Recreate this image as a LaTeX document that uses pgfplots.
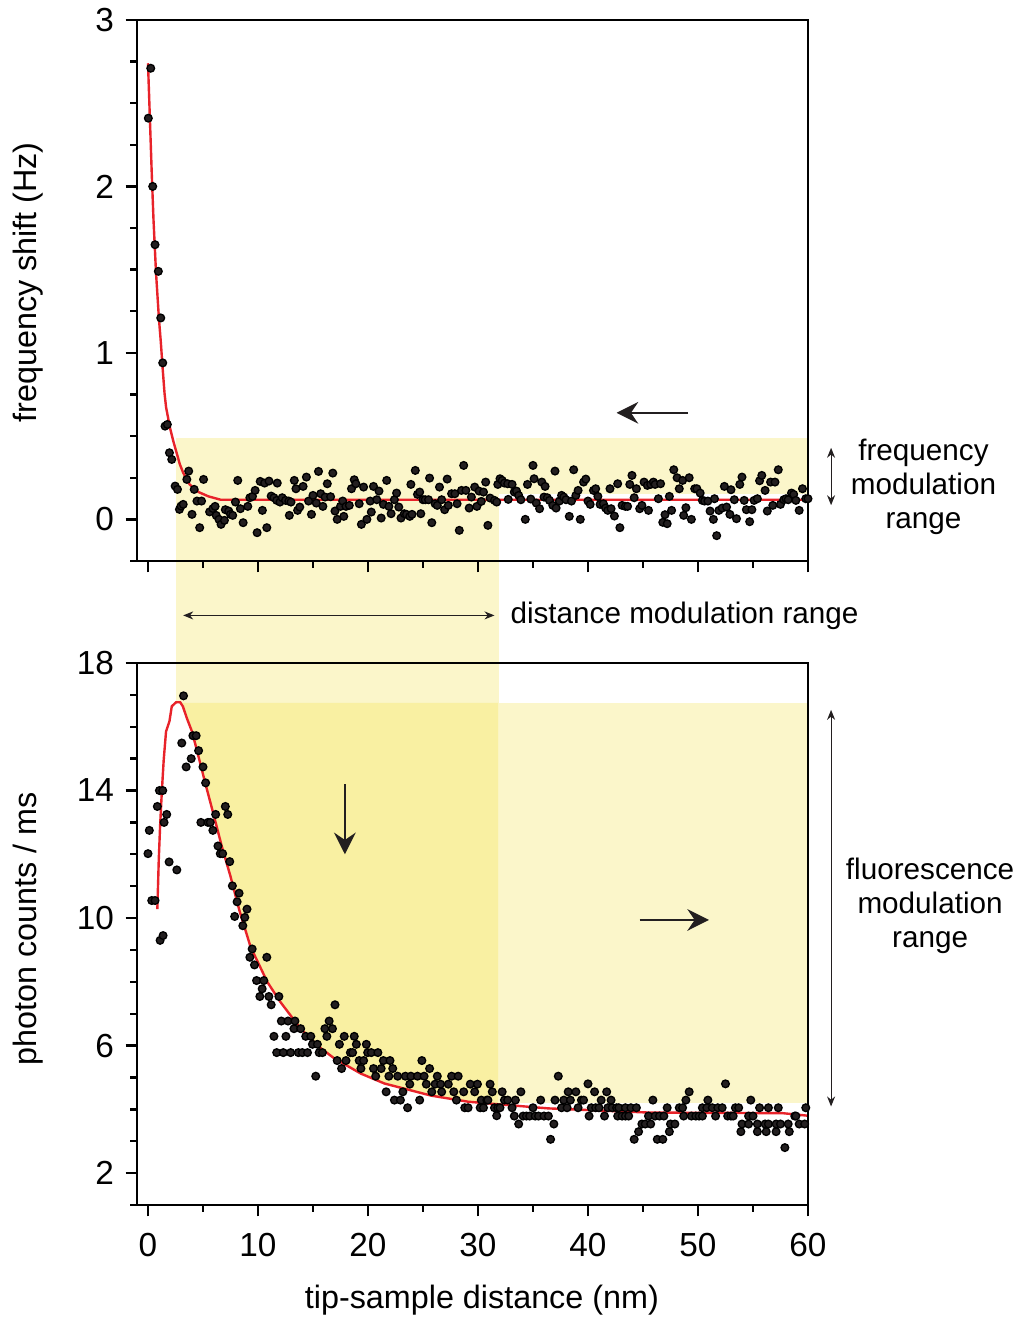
\documentclass[border=0pt]{standalone}
\usepackage{pgfplots}
\pgfplotsset{compat=1.18}
\usepackage{fontspec}
\setmainfont{Liberation Sans}
\usetikzlibrary{arrows.meta}
\definecolor{pale}{RGB}{251,246,202}
\definecolor{dark}{RGB}{249,240,162}
\definecolor{dotc}{RGB}{35,31,32}
\definecolor{curvec}{RGB}{232,35,42}
\newcommand\fst{\fontsize{10}{12}\selectfont}
\newcommand\fsl{\fontsize{9.7}{11.6}\selectfont}
\newcommand\fsa{\fontsize{8.9}{10.2}\selectfont}

\tikzset{
 bigarrow/.style={line width=0.6pt, dotc, -{Stealth[length=6.5pt,width=6.5pt,inset=2.2pt]}},
 thinarrow/.style={line width=0.35pt, dotc, {Stealth[length=3pt,width=2.4pt]}-{Stealth[length=3pt,width=2.4pt]}},
}
\pgfplotsset{
 myax/.style={
  scale only axis, width=201.3pt,
  xmin=-1, xmax=60,
  axis on top, clip=false,
  axis line style={line width=0.7pt},
  every tick/.append style={line width=0.7pt, black},
  major tick length=3.4pt, minor tick length=2pt,
  tick align=outside, tick pos=left,
  xtick={0,10,...,60}, minor xtick={5,15,...,55},
  tick label style={font=\fst},
  xticklabel style={yshift=-1.5pt},
  label style={font=\fsl},
  /pgf/number format/assume math mode=true,
  ylabel style={at={(axis description cs:-0.162,0.51)}, anchor=center},
 },
 dots/.style={only marks, mark=*, mark size=1.15pt, mark options={draw=none, fill=dotc}},
 fit/.style={no marks, curvec, line width=0.72pt},
}

\begin{document}
\begin{tikzpicture}
\useasboundingbox (-41.1pt,-33.6pt) rectangle (264.9pt,361.5pt);

% ---------------- top axis ----------------
\begin{axis}[myax, name=top, at={(0,193.2pt)}, anchor=south west, height=162.3pt,
  ymin=-0.25, ymax=3, ytick={0,1,2,3},
  minor ytick={-0.25,0.25,0.5,0.75,1.25,1.5,1.75,2.25,2.5,2.75},
  xticklabels={},
  ylabel={frequency shift (Hz)},
  ylabel style={at={(axis description cs:-0.162,0.515)}}]
\addplot[draw=none, fill=pale] coordinates {(2.56,0.486) (31.87,0.486) (31.87,-1.105) (2.56,-1.105)} -- cycle;
\addplot[draw=none, fill=pale] coordinates {(31.87,0.486) (60,0.486) (60,0.155) (31.87,0.155)} -- cycle;
\addplot[fit] coordinates {(0,2.74) (0.15,2.45) (0.34,2.08) (0.5,1.8) (0.73,1.48) (1.0,1.2) (1.16,1.07) (1.34,0.9) (1.5,0.76) (1.64,0.675) (2.0,0.55) (2.3,0.47) (2.6,0.40) (2.9,0.33) (3.2,0.28) (3.78,0.21) (4.6,0.164) (5.5,0.138) (6.6,0.118) (60,0.118)};
\addplot[dots] coordinates {
(0.03,2.41) (0.25,2.71) (0.43,2.00) (0.64,1.65) (0.94,1.49) (1.16,1.21) (1.34,0.94) (1.55,0.56) (1.76,0.57) (1.95,0.40)
(2.16,0.36) (2.47,0.20) (2.68,0.18) (2.86,0.06) (3.0,0.08) (3.2,0.09) (3.53,0.24) (3.7,0.29) (4.0,0.03) (4.2,0.18)
(4.45,0.11) (4.7,-0.05) (4.87,0.11) (5.05,0.24) (5.6,0.045) (5.9,0.065) (6.1,0.078) (6.2,0.024) (6.45,0.0) (6.64,-0.03)
(6.95,-0.006) (7.03,0.058) (7.34,0.05) (7.5,0.03) (7.7,0.024) (7.95,0.104) (8.16,0.234) (8.4,0.064) (8.65,-0.02) (9.07,0.078)
(9.26,0.13) (9.5,0.138) (9.74,0.174) (9.92,-0.08) (10.2,0.228) (10.4,0.054) (10.6,0.218) (10.8,-0.05) (11.0,0.23) (11.2,0.14)
(11.45,0.13) (11.7,0.114) (11.75,0.218) (12.0,0.104) (12.2,0.13) (12.5,0.114) (12.8,0.11) (12.85,0.024) (13.0,0.104) (13.3,0.234)
(13.45,0.184) (13.6,0.054) (13.8,0.074) (14.1,0.198) (14.4,0.254) (14.6,0.11) (14.86,0.03) (15.0,0.144) (15.3,0.098) (15.5,0.288)
(15.7,0.154) (15.9,0.078) (16.1,0.134) (16.3,0.214) (16.6,0.136) (16.8,0.278) (17.0,0.05) (17.2,0.0) (17.5,0.078) (17.7,0.11)
(17.8,0.018) (18.0,0.078) (18.3,0.084) (18.5,0.184) (18.75,0.238) (18.9,0.214) (19.2,0.094) (19.4,-0.03) (19.6,0.194) (19.9,0.0)
(20.2,0.11) (20.3,0.044) (20.5,0.198) (20.8,0.118) (21.0,0.17) (21.2,0.008) (21.4,0.09) (21.7,0.234) (21.9,0.078) (22.1,0.034)
(22.4,0.118) (22.6,0.158) (22.8,0.074) (23.0,0.008) (23.3,0.034) (23.5,0.03) (23.8,0.018) (23.9,0.21) (24.0,0.03) (24.3,0.294)
(24.5,0.15) (24.7,0.164) (24.8,0.034) (25.0,0.118) (25.2,0.118) (25.5,0.118) (25.6,0.248) (25.8,-0.02) (26.1,0.094) (26.3,0.084)
(26.5,0.194) (26.7,0.118) (26.97,0.058) (27.2,0.242) (27.3,0.084) (27.6,0.154) (27.9,0.154) (28.1,0.094) (28.3,-0.066) (28.5,0.174)
(28.7,0.324) (28.9,0.174) (29.2,0.068) (29.4,0.134) (29.7,0.194) (29.9,0.078) (30.1,0.17) (30.3,0.108) (30.5,0.164) (30.7,0.224)
(30.9,-0.036) (31.1,0.128) (31.5,0.114) (31.7,0.104) (31.8,0.21) (32.0,0.244) (32.2,0.234) (32.4,0.218) (32.7,0.214) (32.75,0.12)
(33.1,0.21) (33.3,0.164) (33.5,0.17) (33.7,0.144) (33.9,0.118) (34.3,0.0) (34.5,0.21) (34.8,0.122) (35.0,0.324) (35.1,0.244)
(35.3,0.098) (35.6,0.064) (35.8,0.224) (36.0,0.134) (36.1,0.198) (36.3,0.13) (36.5,0.114) (36.8,0.084) (37.0,0.29) (37.1,0.068)
(37.4,0.11) (37.6,0.144) (37.8,0.134) (38.0,0.118) (38.3,0.018) (38.5,0.11) (38.7,0.298) (38.9,0.144) (39.1,0.174) (39.3,0.0)
(39.6,0.224) (39.8,0.242) (40.0,0.11) (40.2,0.09) (40.5,0.174) (40.7,0.184) (40.9,0.138) (41.1,0.09) (41.4,0.094) (41.6,0.068)
(41.8,0.054) (42.0,0.184) (42.1,0.064) (42.4,0.02) (42.7,0.214) (42.9,-0.05) (43.1,0.084) (43.4,0.078) (43.6,0.078) (43.8,0.21)
(44.0,0.264) (44.2,0.13) (44.4,0.184) (44.7,0.064) (44.9,0.084) (45.1,0.224) (45.4,0.204) (45.5,0.054) (45.7,0.21) (45.95,0.224)
(46.1,0.21) (46.4,0.124) (46.6,0.214) (46.8,-0.018) (47.0,0.028) (47.2,-0.026) (47.4,0.138) (47.6,0.054) (47.8,0.298) (48.1,0.25)
(48.3,0.184) (48.6,0.234) (48.7,0.024) (48.9,0.07) (49.2,0.25) (49.4,0.0) (49.7,0.184) (49.9,0.184) (50.2,0.158) (50.4,0.114)
(50.6,0.11) (50.9,0.11) (51.1,0.05) (51.4,0.0) (51.5,0.124) (51.7,-0.098) (51.9,0.054) (52.2,0.068) (52.4,0.198) (52.6,0.074)
(52.9,0.03) (53.0,0.178) (53.3,0.118) (53.5,0.004) (53.8,0.21) (54.0,0.254) (54.2,0.114) (54.4,0.058) (54.7,-0.014) (54.9,0.058)
(55.1,0.114) (55.4,0.124) (55.6,0.232) (55.8,0.264) (56.1,0.174) (56.3,0.05) (56.6,0.224) (56.8,0.084) (57.0,0.224) (57.3,0.298)
(57.5,0.09) (57.8,0.118) (58.0,0.124) (58.2,0.118) (58.5,0.158) (58.7,0.15) (58.9,0.114) (59.2,0.054) (59.5,0.184) (59.8,0.124)
(60.0,0.124)};
\draw[bigarrow] (axis cs:49.1,0.64) -- (axis cs:42.6,0.64);
\draw[thinarrow] (axis cs:62.1,0.43) -- (axis cs:62.1,0.085);
\node[font=\fsa, align=center] at (axis cs:70.5,0.198) {frequency\\modulation\\range};
\draw[thinarrow] (axis cs:3.2,-0.577) -- (axis cs:31.5,-0.577);
\node[font=\fsa, anchor=west, inner sep=0pt] at (axis cs:32.9,-0.577) {distance modulation range};
\end{axis}

% ---------------- bottom axis ----------------
\begin{axis}[myax, name=bot, at={(0,0)}, anchor=south west, height=162.6pt,
  ymin=1, ymax=18, ytick={2,6,10,14,18},
  minor ytick={1,3,4,5,7,8,9,11,12,13,15,16,17},
  xlabel={tip-sample distance (nm)},
  xlabel style={at={(axis description cs:0.514,-0.176)}, anchor=center},
  ylabel={photon counts / ms}]
\addplot[draw=none, fill=dark] coordinates {(3.05,16.75) (31.87,16.75) (31.87,4.16) (29.1,4.24) (25.75,4.43) (21.5,4.81) (19.36,5.12) (16.93,5.6) (15.4,6.0) (13.88,6.53) (12.05,7.36) (10.84,8.0) (9.32,9.1) (8.3,10.25) (7.49,11.32) (6.7,12.26) (5.96,13.25) (5.2,14.24) (4.44,15.27) (4.0,15.85) (3.53,16.27) (3.17,16.65)} -- cycle;
\addplot[draw=none, fill=pale] coordinates {(31.87,16.75) (60,16.75) (60,4.2) (31.87,4.2)} -- cycle;
\addplot[fit] coordinates {(0.85,10.28) (0.98,11.84) (1.1,12.88) (1.25,13.92) (1.43,14.97) (1.64,15.85) (1.95,16.17) (2.16,16.64) (2.56,16.77) (2.92,16.77) (3.17,16.64) (3.53,16.27) (4.0,15.85) (4.44,15.27) (5.2,14.24) (5.96,13.25) (6.7,12.26) (7.49,11.32) (8.3,10.25) (9.32,9.1) (10.84,8.0) (12.05,7.36) (13.88,6.53) (15.4,6.0) (16.93,5.6) (19.36,5.12) (21.5,4.81) (25.75,4.43) (29.1,4.24) (31.8,4.16) (36.4,4.03) (45.5,3.9) (57.7,3.88) (60,3.8)};
\addplot[dots] coordinates {
(0.0,12.02) (0.12,12.75) (0.34,10.55) (0.64,10.55) (0.85,13.5) (1.04,14.0) (1.1,9.3) (1.34,14.0) (1.37,9.45) (1.46,13.0)
(1.7,13.25) (1.92,11.76) (2.62,11.51) (3.07,15.49) (3.23,16.97) (3.47,14.74) (3.93,15.0) (4.08,15.72) (4.38,15.72) (4.6,15.25)
(4.81,13.0) (5.0,14.74) (5.24,14.24) (5.45,13.0) (5.66,13.0) (5.9,12.75) (6.15,13.25) (6.36,12.26) (6.57,12.02) (6.79,12.02)
(7.03,13.5) (7.25,13.25) (7.43,11.77) (7.67,11.01) (7.88,10.05) (8.1,10.51) (8.28,10.78) (8.62,9.76) (8.8,10.02) (9.0,10.28)
(9.26,8.77) (9.47,9.03) (9.68,8.53) (9.87,8.04) (10.17,7.54) (10.38,7.78) (10.53,8.04) (10.8,8.77) (10.99,7.54) (11.2,7.28)
(11.45,6.29) (11.7,5.78) (11.9,7.54) (12.12,6.77) (12.3,5.78) (12.54,6.29) (12.73,6.77) (12.97,5.78) (13.27,6.53) (13.36,6.77)
(13.67,5.78) (13.88,6.53) (14.03,5.78) (14.34,6.29) (14.5,5.78) (14.8,6.29) (14.95,6.04) (15.25,5.04) (15.4,6.04) (15.56,5.78)
(15.86,5.78) (16.08,6.53) (16.26,6.29) (16.47,6.77) (16.77,6.53) (17.0,7.28) (17.2,5.53) (17.4,6.04) (17.6,5.28) (17.84,6.29)
(18.0,5.53) (18.4,5.78) (18.6,5.78) (18.75,6.29) (18.94,6.04) (19.2,5.53) (19.36,5.28) (19.6,5.53) (19.85,6.04) (19.97,5.78)
(20.3,5.78) (20.5,5.28) (20.7,5.04) (20.9,5.78) (21.2,5.28) (21.4,5.53) (21.65,4.55) (21.9,5.04) (22.0,5.53) (22.25,5.28)
(22.4,4.29) (22.7,5.04) (22.95,4.29) (23.17,4.55) (23.4,5.04) (23.6,4.05) (23.8,4.79) (23.9,5.04) (24.5,5.04) (24.7,4.29)
(24.9,5.53) (25.1,5.04) (25.3,4.79) (25.6,5.28) (25.8,4.55) (26.1,4.79) (26.3,5.04) (26.6,4.79) (26.7,4.55) (27.3,4.79)
(27.6,5.04) (27.8,4.55) (28.04,4.29) (28.2,5.04) (28.7,4.55) (28.8,4.05) (29.1,4.05) (29.3,4.79) (29.7,4.55) (29.95,4.79)
(30.2,4.05) (30.3,4.29) (30.5,4.05) (30.8,4.29) (30.9,4.29) (31.1,4.79) (31.3,4.55) (31.5,4.05) (31.7,3.8) (31.8,4.05)
(32.0,4.05) (32.2,4.55) (32.4,4.29) (32.7,4.29) (33.1,4.05) (33.3,3.79) (33.4,4.29) (33.7,3.54) (33.9,4.55) (34.1,3.79)
(34.4,3.79) (34.7,3.79) (35.0,4.05) (35.2,3.79) (35.5,3.79) (35.7,4.29) (36.0,3.79) (36.4,3.79) (36.6,3.06) (36.9,3.54)
(37.0,4.29) (37.3,5.04) (37.6,4.05) (37.8,4.29) (38.1,4.05) (38.2,4.55) (38.4,4.29) (38.9,4.55) (39.1,4.05) (39.4,4.29)
(39.6,4.29) (40.0,4.8) (40.1,3.79) (40.3,4.05) (40.6,4.55) (40.7,4.05) (41.0,4.05) (41.2,4.29) (41.5,3.79) (41.7,4.55)
(41.8,4.05) (42.1,4.29) (42.2,4.05) (42.6,4.05) (42.7,3.79) (42.8,4.05) (43.1,3.79) (43.4,3.79) (43.4,4.05) (43.7,3.79)
(43.9,4.05) (44.2,3.06) (44.4,4.05) (44.6,3.3) (44.9,3.54) (45.2,3.54) (45.5,3.79) (45.7,3.54) (45.9,4.29) (46.1,3.79)
(46.3,3.06) (46.5,3.79) (46.8,3.06) (46.9,3.79) (47.2,4.05) (47.4,3.3) (47.5,3.54) (47.9,3.54) (48.3,4.05) (48.6,4.05)
(48.7,3.79) (48.9,4.29) (49.2,4.55) (49.4,3.79) (49.8,3.79) (50.1,3.79) (50.4,3.79) (50.4,4.05) (50.8,4.05) (50.9,4.29)
(51.3,4.05) (51.6,3.79) (51.8,4.05) (52.2,4.05) (52.5,4.8) (52.7,3.79) (53.0,3.79) (53.2,3.79) (53.4,4.05) (53.7,4.05)
(53.9,3.3) (54.0,3.54) (54.6,3.79) (54.6,3.54) (54.8,4.29) (55.0,3.79) (55.4,3.54) (55.4,3.3) (55.6,4.05) (56.1,3.54)
(56.2,3.3) (56.4,4.05) (56.4,3.54) (57.1,3.54) (57.1,3.3) (57.3,4.05) (57.5,3.54) (57.9,2.8) (58.2,3.54) (58.3,3.3)
(58.8,3.79) (58.9,3.79) (59.2,3.54) (59.7,3.54) (59.8,4.05)};
\draw[bigarrow] (axis cs:17.9,14.19) -- (axis cs:17.9,12.0);
\draw[bigarrow] (axis cs:44.7,9.94) -- (axis cs:51.0,9.94);
\draw[thinarrow] (axis cs:62.1,16.53) -- (axis cs:62.1,4.09);
\node[font=\fsa, align=center] at (axis cs:71.1,10.375) {fluorescence\\modulation\\range};
\end{axis}
\end{tikzpicture}
\end{document}
